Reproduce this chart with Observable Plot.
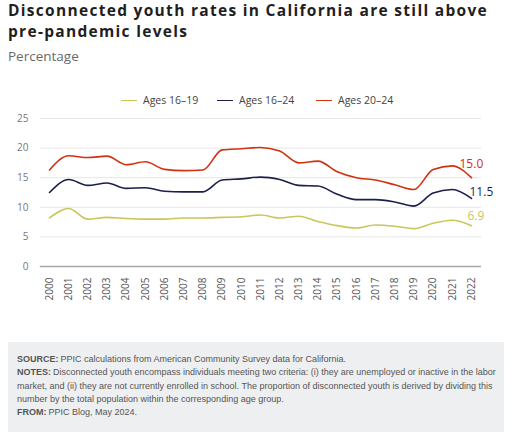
<!DOCTYPE html>
<html>
<head>
<meta charset="utf-8">
<script src="https://cdn.jsdelivr.net/npm/d3@7"></script>
<script src="https://cdn.jsdelivr.net/npm/@observablehq/plot@0.6"></script>
<style>
  html, body { margin: 0; padding: 0; background: #fff; }
  #wrap { width: 512px; height: 432px; position: relative; overflow: hidden; font-family: "Open Sans", Lato, sans-serif; }
  #title { position: absolute; left: 8px; top: 0px; font-size: 15.5px; font-weight: 700; color: #1e1e1e; line-height: 21px; width: 500px; letter-spacing: 1.3px; white-space: nowrap; }
  #sub { position: absolute; left: 8px; top: 47px; font-size: 13.5px; color: #6a6a6a; }
  #legend { position: absolute; top: 92px; left: 0; width: 512px; height: 16px; }
  .li { position: absolute; top: 0; font-size: 10.5px; color: #444; line-height: 16px; white-space: nowrap; }
  .li span.sw { display: inline-block; width: 16px; height: 0; border-top: 1.6px solid; vertical-align: middle; margin-right: 6px; position: relative; top: -1px; }
  #chart { position: absolute; left: 0; top: 108px; }
  #foot { position: absolute; left: 8px; top: 342px; width: 496px; height: 90px; background: #eeeff1; font-family: "Liberation Sans", Arial, sans-serif; font-size: 9px; color: #555; line-height: 13.3px; box-sizing: border-box; padding: 11px 6px 0 9px; }
  #foot div { white-space: nowrap; }
  #foot b { color: #555; margin-right: 2px; }
</style>
</head>
<body>
<div id="wrap">
  <div id="title">Disconnected youth rates in California are still above<br>pre-pandemic levels</div>
  <div id="sub">Percentage</div>
  <div id="legend"></div>
  <div id="chart"></div>
  <div id="foot">
    <div><b>SOURCE:</b>PPIC calculations from American Community Survey data for California.</div>
    <div><b>NOTES:</b>Disconnected youth encompass individuals meeting two criteria: (i) they are unemployed or inactive in the labor</div>
    <div>market, and (ii) they are not currently enrolled in school. The proportion of disconnected youth is derived by dividing this</div>
    <div>number by the total population within the corresponding age group.</div>
    <div><b>FROM:</b>PPIC Blog, May 2024.</div>
  </div>
</div>
<script>
const years = [2000,2001,2002,2003,2004,2005,2006,2007,2008,2009,2010,2011,2012,2013,2014,2015,2016,2017,2018,2019,2020,2021,2022];
const ages1619 = [8.2,9.8,8.0,8.3,8.1,8.0,8.0,8.2,8.2,8.3,8.4,8.7,8.2,8.5,7.6,6.9,6.5,7.0,6.8,6.4,7.3,7.8,6.9];
const ages1624 = [12.5,14.7,13.7,14.1,13.2,13.3,12.7,12.6,12.6,14.6,14.8,15.1,14.7,13.7,13.6,12.2,11.3,11.3,10.9,10.2,12.4,13.0,11.5];
const ages2024 = [16.3,18.7,18.4,18.65,17.2,17.7,16.4,16.2,16.3,19.7,19.9,20.1,19.5,17.5,17.8,16.0,15.0,14.6,13.8,13.0,16.4,17.0,15.0];
const seriesNames = ["Ages 16–19","Ages 16–24","Ages 20–24"];
const seriesColors = ["#c9c65a","#1b1f4b","#d2310f"];
const yTicks = [0,5,10,15,20,25];
const endLabels = ["6.9","11.5","15.0"];

const seriesValues = [ages1619, ages1624, ages2024];
const data = [];
seriesNames.forEach((s, i) => years.forEach((yr, j) => data.push({series: s, year: yr, value: seriesValues[i][j]})));
const last = seriesNames.map((s, i) => ({series: s, year: years[years.length-1], value: seriesValues[i][years.length-1], label: endLabels[i]}));

// legend
const legend = document.getElementById("legend");
const legendX = [121, 217, 316];
seriesNames.forEach((s, i) => {
  const d = document.createElement("div");
  d.className = "li";
  d.style.left = legendX[i] + "px";
  d.innerHTML = `<span class="sw" style="border-color:${seriesColors[i]}"></span>${s}`;
  legend.appendChild(d);
});

const labelOffsets = [{dx: -4, dy: -9}, {dx: -2, dy: -6}, {dx: -12, dy: -14}];

const plot = Plot.plot({
  width: 512,
  height: 200,
  marginLeft: 49,
  marginRight: 41,
  marginTop: 10,
  marginBottom: 42,
  style: {fontFamily: "'Open Sans', Lato, sans-serif", fontSize: "10px", color: "#666", background: "transparent"},
  x: {domain: [2000, 2022], label: null},
  y: {domain: [0, 25], label: null},
  color: {domain: seriesNames, range: seriesColors},
  marks: [
    Plot.ruleY(yTicks.filter(d => d > 0), {x1: 1999.52, x2: 2022.52, stroke: "#e6e6e6", strokeWidth: 1}),
    Plot.ruleY([0], {x1: 1999.52, x2: 2022.52, stroke: "#a8a8a8", strokeWidth: 1.5}),
    Plot.axisY({ticks: yTicks, tickSize: 0, tickPadding: 21, fill: "#777", fontSize: 10, label: null}),
    Plot.axisX({ticks: years, tickFormat: d => String(d), tickSize: 0, tickPadding: 11, tickRotate: -90, fill: "#555", fontSize: 10, label: null}),
    Plot.line(data, {x: "year", y: "value", z: "series", stroke: "series", strokeWidth: 1.6, curve: "monotone-x"}),
    ...last.map((d, i) => Plot.text([d], {x: "year", y: "value", text: "label", fill: seriesColors[i], textAnchor: "start", dx: labelOffsets[i].dx, dy: labelOffsets[i].dy, fontSize: 12}))
  ]
});
document.getElementById("chart").appendChild(plot);
</script>
</body>
</html>
